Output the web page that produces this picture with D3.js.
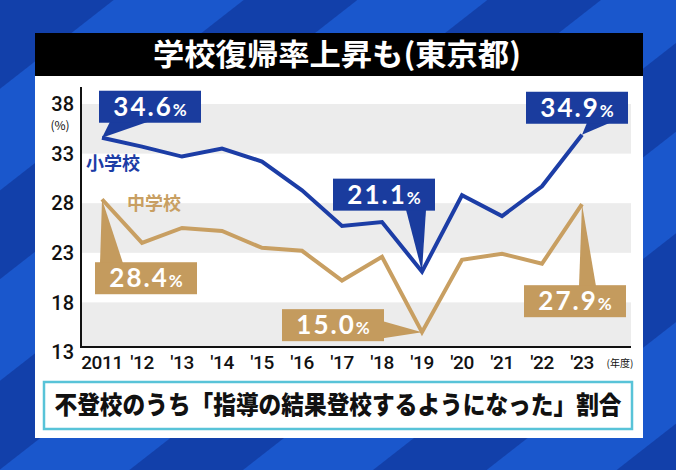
<!DOCTYPE html>
<html><head><meta charset="utf-8">
<script src="https://cdn.jsdelivr.net/npm/d3@7"></script>
<style>html,body{margin:0;padding:0;background:#1447b8;} svg{display:block;}</style>
</head><body>
<svg id="chart" width="676" height="470"></svg>
<script>
// ---- data ----
const years = ["2011","'12","'13","'14","'15","'16","'17","'18","'19","'20","'21","'22","'23"];
const elementary = [34.6,33.7,32.7,33.5,32.2,29.3,25.7,26.1,21.1,28.8,26.7,29.7,34.9];
const juniorHigh = [28.4,24.0,25.5,25.2,23.5,23.2,20.2,22.6,15.0,22.3,22.9,21.9,27.9];
const yTicks = [13,18,23,28,33,38];
const seriesNames = ["小学校","中学校"];
const highlighted = [0, 8, 12];
const titleText = "学校復帰率上昇も(東京都)";
const captionText = "不登校のうち「指導の結果登校するようになった」割合";
const unitText = "(%)";
const yearUnitText = "(年度)";

// ---- layout ----
const W = 676, H = 470;
const svg = d3.select("#chart");
const blue = "#1c3da6", gold = "#c89f62";
const blueBox = "#1a3c9e", goldBox = "#c49b5e";

// background stripes
const defs = svg.append("defs");
const pat = defs.append("pattern").attr("id","stripes").attr("patternUnits","userSpaceOnUse")
  .attr("width",150).attr("height",150).attr("patternTransform","rotate(-38)");
pat.append("rect").attr("width",150).attr("height",150).attr("fill","#1a57cc");
pat.append("rect").attr("width",150).attr("height",70).attr("fill","#1240aa");
svg.append("rect").attr("width",W).attr("height",H).attr("fill","url(#stripes)");

// panel
svg.append("rect").attr("x",35).attr("y",33).attr("width",608).attr("height",405).attr("fill","#ffffff");
svg.append("rect").attr("x",35).attr("y",33).attr("width",608).attr("height",43).attr("fill","#000000");
svg.append("text").attr("x",337).attr("y",65).attr("text-anchor","middle")
  .attr("font-family","'Noto Sans CJK JP'").attr("font-weight",700).attr("font-size",30)
  .attr("fill","#fff").attr("textLength",368).attr("lengthAdjust","spacingAndGlyphs").text(titleText);

// scales
const x = d3.scalePoint().domain(years).range([102,582]);
const y = d3.scaleLinear().domain([13,38]).range([352,104]);
const plotL = 81, plotR = 631, plotT = 87, axisY = 347;

// bands
const bandPairs = [[33,38],[23,28],[13,18]];
svg.append("g").selectAll("rect").data(bandPairs).join("rect")
  .attr("x",plotL).attr("width",plotR-plotL)
  .attr("y",d=>y(d[1])).attr("height",d=>Math.min(y(d[0]),axisY)-y(d[1]))
  .attr("fill","#ececec");

// axes lines
svg.append("line").attr("x1",plotL).attr("x2",plotL).attr("y1",plotT).attr("y2",axisY).attr("stroke","#111").attr("stroke-width",2);
svg.append("line").attr("x1",plotL-1).attr("x2",plotR).attr("y1",axisY).attr("y2",axisY).attr("stroke","#111").attr("stroke-width",2);

// y tick labels
svg.append("g").selectAll("text").data(yTicks).join("text")
  .attr("x",74).attr("y",d=>y(d)).attr("dy","0.36em").attr("text-anchor","end")
  .attr("font-family","Roboto").attr("font-weight",500).attr("font-size",20).attr("fill","#111")
  .text(d=>d);
svg.append("text").attr("x",60).attr("y",y(38)+26).attr("text-anchor","middle")
  .attr("font-family","'Noto Sans CJK JP'").attr("font-size",12).attr("fill","#111").text(unitText);

// x tick labels
svg.append("g").selectAll("text").data(years).join("text")
  .attr("x",d=>x(d)).attr("y",369).attr("text-anchor","middle")
  .attr("font-family","Roboto").attr("font-weight",500).attr("font-size",19).attr("letter-spacing","-0.4")
  .attr("fill","#111").text(d=>d);
svg.append("text").attr("x",620).attr("y",367).attr("text-anchor","middle")
  .attr("font-family","'Noto Sans CJK JP'").attr("font-size",10).attr("fill","#111").text(yearUnitText);

// lines
const line = d3.line().x((d,i)=>x(years[i])).y(d=>y(d));
svg.append("path").datum(juniorHigh).attr("d",line).attr("fill","none").attr("stroke",gold).attr("stroke-width",4).attr("stroke-linejoin","miter");
svg.append("path").datum(elementary).attr("d",line).attr("fill","none").attr("stroke",blue).attr("stroke-width",4).attr("stroke-linejoin","miter");

// series labels
svg.append("text").attr("x",113).attr("y",170).attr("text-anchor","middle")
  .attr("font-family","'Noto Sans CJK JP'").attr("font-weight",700).attr("font-size",18).attr("fill",blue).text(seriesNames[0]);
svg.append("text").attr("x",154).attr("y",210).attr("text-anchor","middle")
  .attr("font-family","'Noto Sans CJK JP'").attr("font-weight",700).attr("font-size",18).attr("fill",gold).text(seriesNames[1]);

// callouts layout: box offset from point, and wedge base (relative to box)
const boxW = 102, boxH = 32;
const calloutLayout = [
  {series:0, idx:0, dx:-3,  dy:-47, side:"bottom", b:[11,49]},
  {series:0, idx:1, dx:-89, dy:-93, side:"bottom", b:[73,93]},
  {series:0, idx:2, dx:-56, dy:-43, side:"bottom", b:[61,84]},
  {series:1, idx:0, dx:-7,  dy:63,  side:"top",    b:[5,28]},
  {series:1, idx:1, dx:-140,dy:-23, side:"right",  b:[12,29]},
  {series:1, idx:2, dx:-58, dy:81,  side:"top",    b:[55,72]}
];
const seriesVals = [elementary, juniorHigh];
const cg = svg.append("g");
calloutLayout.forEach(c=>{
  const i = highlighted[c.idx];
  const v = seriesVals[c.series][i];
  const px = x(years[i]), py = y(v);
  const bx = px + c.dx, by = py + c.dy;
  const col = c.series===0 ? blueBox : goldBox;
  let pts;
  if (c.side==="bottom") pts = [[bx+c.b[0],by+boxH-1],[bx+c.b[1],by+boxH-1],[px,py]];
  else if (c.side==="top") pts = [[bx+c.b[0],by+1],[bx+c.b[1],by+1],[px,py]];
  else pts = [[bx+boxW-1,by+c.b[0]],[bx+boxW-1,by+c.b[1]],[px,py]];
  cg.append("path").attr("d", d3.line()(pts)+"Z").attr("fill",col);
  cg.append("rect").attr("x",bx).attr("y",by).attr("width",boxW).attr("height",boxH).attr("fill",col);
  const t = cg.append("text").attr("x",bx+boxW/2).attr("y",by+boxH/2+9).attr("text-anchor","middle")
    .attr("font-family","Lato").attr("font-weight",700).attr("fill","#fff");
  t.append("tspan").attr("font-size",26).attr("letter-spacing","2").text(v.toFixed(1));
  t.append("tspan").attr("font-size",17).text("%");
});

// caption
svg.append("rect").attr("x",44).attr("y",382).attr("width",588).attr("height",47)
  .attr("fill","#fff").attr("stroke","#58c3d8").attr("stroke-width",2.5);
svg.append("text").attr("transform","translate(338,414) scale(0.89,1)").attr("text-anchor","middle")
  .attr("font-family","'Noto Sans CJK JP'").attr("font-weight",900).attr("font-size",25.5)
  .attr("fill","#111").text(captionText);
</script>
</body></html>
